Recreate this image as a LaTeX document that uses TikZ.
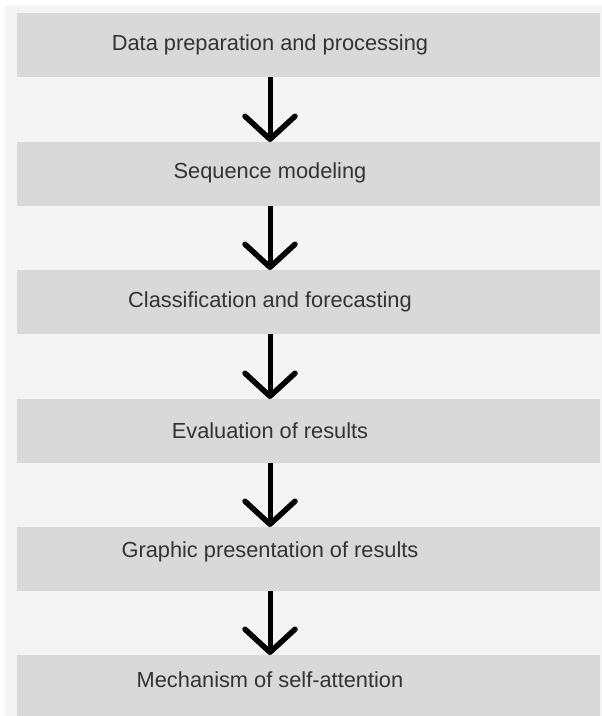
\documentclass[tikz,border=0pt]{standalone}
\usepackage{fontspec}
\setmainfont{Liberation Sans}
\usetikzlibrary{arrows.meta}
\definecolor{panel}{HTML}{F4F4F4}
\definecolor{boxfill}{HTML}{D9D9D9}
\definecolor{txtcol}{HTML}{333333}
\tikzset{
  box/.style={draw=none, fill=boxfill, anchor=north, minimum width=583pt, minimum height=64pt, inner sep=0pt},
  lbl/.style={text=txtcol, font=\fontsize{21.8}{26}\selectfont, inner sep=0pt, anchor=center},
  arr/.style={line width=5pt, -{Straight Barb[length=23pt,width=50pt,line width=5.5pt,round]}}
}
\begin{document}
\begin{tikzpicture}[x=1pt,y=-1pt]
\useasboundingbox (0,0) rectangle (602,716);
\fill[white] (0,0) rectangle (602,716);
\fill[panel] (5,6) rectangle (602,716);
\node[box] (b1) at (308.5,13) {};
\node[box] (b2) at (308.5,142) {};
\node[box] (b3) at (308.5,270) {};
\node[box] (b4) at (308.5,399) {};
\node[box] (b5) at (308.5,527) {};
\node[box, minimum height=70pt] (b6) at (308.5,655) {};
\node[lbl] (t1) at (270,45) {Data preparation and processing};
\node[lbl] (t2) at (270,173) {Sequence modeling};
\node[lbl] (t3) at (270,302) {Classification and forecasting};
\node[lbl] (t4) at (270,431) {Evaluation of results};
\node[lbl] (t5) at (270,552) {Graphic presentation of results};
\node[lbl] (t6) at (270,680) {Mechanism of self-attention};
\draw[arr] (b1.south -| t1) -- (b2.north -| t1);
\draw[arr] (b2.south -| t1) -- (b3.north -| t1);
\draw[arr] (b3.south -| t1) -- (b4.north -| t1);
\draw[arr] (b4.south -| t1) -- (b5.north -| t1);
\draw[arr] (b5.south -| t1) -- (b6.north -| t1);
\end{tikzpicture}
\end{document}
